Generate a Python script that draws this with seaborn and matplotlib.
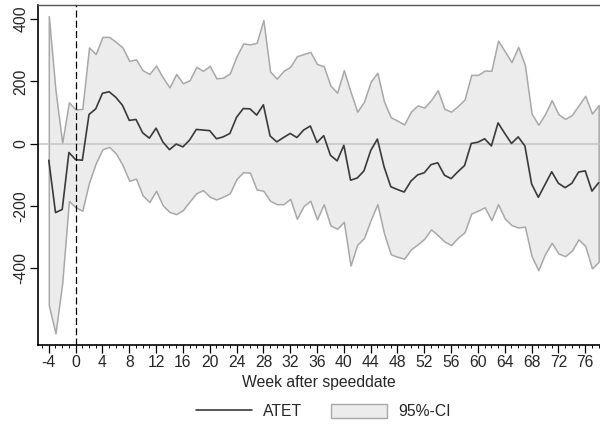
import numpy as np
import pandas as pd
import matplotlib
matplotlib.use("Agg")
import matplotlib.pyplot as plt
from matplotlib.lines import Line2D
from matplotlib.patches import Patch
from matplotlib.ticker import MultipleLocator
import seaborn as sns

weeks = list(range(-4, 79))

atet = [-53, -221, -211, -28, -51, -53, 94, 112, 162, 167, 149, 123, 75,
        78, 35, 18, 50, 6, -19, -1, -10, 12, 46, 44, 42, 16, 22,
        33, 85, 113, 112, 92, 125, 25, 6, 20, 33, 20, 44, 57,
        4, 26, -37, -55, -5, -117, -110, -87, -22, 15, -74, -138, -147, -155,
        -120, -100, -93, -67, -61, -101, -112, -90, -70, 1, 5, 16, -7,
        67, 33, 1, 22, -7, -129, -172, -131, -90, -127, -141, -127, -91, -87, -152, -125]

ci_upper = [410, 172, 3, 133, 110, 112, 309, 288, 343, 343, 327, 309, 266,
            271, 236, 224, 251, 213, 181, 224, 194, 204, 247, 234, 250, 210, 212,
            226, 281, 322, 319, 324, 397, 232, 209, 234, 247, 281, 288, 295,
            256, 249, 187, 164, 236, 167, 103, 135, 199, 228, 135, 85, 74, 62,
            103, 123, 116, 140, 172, 112, 103, 121, 142, 221, 221, 235, 234,
            331, 297, 262, 311, 253, 97, 61, 95, 140, 95, 80, 92, 123, 154, 97, 124]

ci_lower = [-518, -609, -448, -184, -204, -215, -125, -63, -18, -10, -31, -68, -119,
            -112, -166, -187, -151, -198, -219, -226, -213, -185, -159, -149, -170, -179, -170,
            -159, -113, -91, -93, -147, -151, -183, -194, -194, -177, -241, -200, -183,
            -243, -194, -262, -273, -251, -391, -324, -303, -245, -194, -288, -355, -363, -369,
            -339, -323, -305, -275, -293, -314, -325, -302, -284, -224, -215, -204, -245,
            -194, -240, -261, -269, -266, -361, -406, -354, -318, -352, -361, -343, -307, -328, -400, -379]

x_ticks = list(range(-4, 80, 4))
y_ticks = [-400, -200, 0, 200, 400]

df = pd.DataFrame({"week": weeks, "atet": atet, "lo": ci_lower, "hi": ci_upper})

sns.set_theme(style="white")
plt.rcParams["font.family"] = ["Liberation Sans", "DejaVu Sans"]

FS = 11.3

fig = plt.figure(figsize=(6.0, 4.28), dpi=100)
ax = fig.add_axes([0.064, 0.194, 0.936, 0.794])

line_col = "#3a3a3a"
ci_face = "#ececec"
ci_edge = "#a8a8a8"

ax.fill_between(df["week"], df["lo"], df["hi"], facecolor=ci_face,
                edgecolor=ci_edge, linewidth=1.1, zorder=1)
ax.axhline(0, color="#c6c6c6", linewidth=1.1, zorder=2)
sns.lineplot(data=df, x="week", y="atet", ax=ax, color=line_col,
             linewidth=1.2, zorder=3, legend=False)
ax.axvline(0, color="black", linewidth=0.9, linestyle=(0, (5.6, 2.6)), zorder=4)

ax.set_xlim(-5.55, 78.2)
ax.set_ylim(-646, 445)
ax.set_xticks(x_ticks)
ax.set_xticklabels([str(t) for t in x_ticks], fontsize=FS)
ax.xaxis.set_minor_locator(MultipleLocator(1))
ax.set_yticks(y_ticks)
ax.set_yticklabels([str(t) for t in y_ticks], fontsize=FS, rotation=90, va="center")

ax.tick_params(axis="both", which="major", direction="out", length=5.5, width=0.9,
               color="black", bottom=True, left=True, pad=1.5)
ax.tick_params(axis="x", which="minor", direction="out", length=2.5, width=0.7,
               color="black", bottom=True)

ax.set_xlabel("Week after speeddate", fontsize=FS, labelpad=3.5)
ax.set_ylabel("")

for side in ("left", "bottom"):
    ax.spines[side].set_color("black")
    ax.spines[side].set_linewidth(1.2)
ax.spines["top"].set_color("#555555")
ax.spines["top"].set_linewidth(1.0)
ax.spines["right"].set_visible(False)

handles = [Line2D([0], [0], color=line_col, linewidth=1.2),
           Patch(facecolor=ci_face, edgecolor=ci_edge, linewidth=1.0)]
fig.legend(handles, ["ATET", "95%-CI"], loc="center", ncol=2,
           bbox_to_anchor=(0.539, 0.038), frameon=False, fontsize=FS,
           handlelength=3.6, handleheight=1.0, columnspacing=1.8, handletextpad=0.7)

fig.savefig("out.png", dpi=100)
